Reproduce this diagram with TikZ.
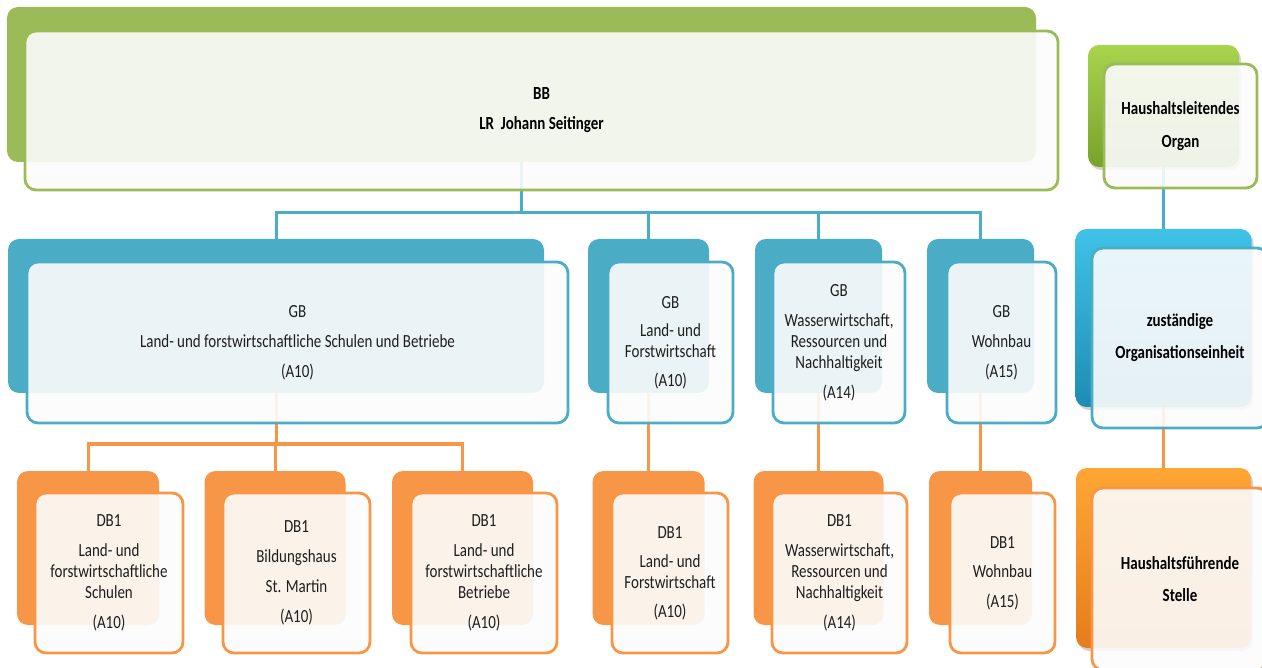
\documentclass[tikz,border=0pt]{standalone}
\usepackage{fontspec}
\setmainfont{Carlito}[FakeStretch=0.81]
\usetikzlibrary{shadows}
\pgfdeclarelayer{bg}
\pgfsetlayers{bg,main}
\definecolor{cgreen}{HTML}{9BBB59}
\definecolor{cblue}{HTML}{4BACC6}
\definecolor{corange}{HTML}{F79646}
\definecolor{lgtop}{HTML}{A8D44E}
\definecolor{lgbot}{HTML}{78A22A}
\definecolor{lbtop}{HTML}{40C2E8}
\definecolor{lbbot}{HTML}{1E8CB2}
\definecolor{lotop}{HTML}{FFA634}
\definecolor{lobot}{HTML}{E57D1A}
\definecolor{txt}{HTML}{1E1E1E}
\tikzset{
  backbox/.style={fill=#1, rounded corners=11pt, inner sep=0pt, outer sep=0pt},
  legback/.style 2 args={top color=#1, bottom color=#2, rounded corners=11pt, inner sep=0pt, outer sep=0pt,
    drop shadow={opacity=0.35, shadow xshift=2pt, shadow yshift=-3pt}},
  frontbox/.style={draw=#1, line width=2.8pt, rounded corners=11pt, fill=white!99!black, fill opacity=0.9,
    text opacity=1, inner sep=0pt, outer sep=0pt, align=center, text=txt,
    font=\fontsize{18.5}{21}\selectfont},
  legtext/.style={font=\fontsize{18.5}{21}\selectfont\bfseries, text=black},
  conn/.style={draw=#1, line width=3pt},
}
\begin{document}
\begin{tikzpicture}[x=1pt,y=-1pt]
\useasboundingbox (0,0) rectangle (1262,668);

% junction coordinates
\coordinate (bj) at (521.5,213);
\coordinate (gj) at (276,444);

% ---------- back boxes ----------
\node[backbox=cgreen, minimum width=1029pt, minimum height=155pt] (bbb) at (521.5,84.5) {};
\node[backbox=cblue, minimum width=536pt, minimum height=154pt] (gb1b) at (276,316) {};
\node[backbox=cblue, minimum width=121pt, minimum height=154pt] (gb2b) at (648.5,316) {};
\node[backbox=cblue, minimum width=127pt, minimum height=154pt] (gb3b) at (818.5,316) {};
\node[backbox=cblue, minimum width=107pt, minimum height=154pt] (gb4b) at (980.5,316) {};
\node[backbox=corange, minimum width=142pt, minimum height=154pt] (db1ab) at (88,548) {};
\node[backbox=corange, minimum width=141pt, minimum height=154pt] (db1bb) at (275,548) {};
\node[backbox=corange, minimum width=141pt, minimum height=154pt] (db1cb) at (462.5,548) {};
\node[backbox=corange, minimum width=112pt, minimum height=154pt] (db2b) at (648.5,548) {};
\node[backbox=corange, minimum width=130pt, minimum height=154pt] (db3b) at (818.5,548) {};
\node[backbox=corange, minimum width=103pt, minimum height=154pt] (db4b) at (980.5,548) {};
\node[legback={lgtop}{lgbot}, minimum width=151pt, minimum height=122pt] (hob) at (1163.5,106) {};
\node[legback={lbtop}{lbbot}, minimum width=176pt, minimum height=178pt] (zob) at (1163.5,318) {};
\node[legback={lotop}{lobot}, minimum width=175pt, minimum height=180pt] (hfb) at (1163.5,558) {};

% ---------- connectors (behind the boxes) ----------
\begin{pgfonlayer}{bg}
\draw[conn=cblue] (bbb.center) -- (bj);
\draw[conn=cblue] (gb1b.north) |- (bj) -| (gb4b.north);
\draw[conn=cblue] (gb2b.north) -- (gb2b.north |- bj);
\draw[conn=cblue] (gb3b.north) -- (gb3b.north |- bj);
\draw[conn=corange] (gb1b.center) -- (gj);
\draw[conn=corange] (db1ab.north) |- (gj) -| (db1cb.north);
\draw[conn=corange] (db1bb.north) -- (db1bb.north |- gj);
\draw[conn=corange] (gb2b.center) -- (db2b.center);
\draw[conn=corange] (gb3b.center) -- (db3b.center);
\draw[conn=corange] (gb4b.center) -- (db4b.center);
\draw[conn=cblue] (hob.center) -- (zob.center);
\draw[conn=corange] (zob.center) -- (hfb.center);
\end{pgfonlayer}

% ---------- front boxes with text ----------
\node[frontbox=cgreen, minimum width=1033pt, minimum height=159pt, font=\fontsize{18.5}{21}\selectfont\bfseries, text=black] (bb) at (541.5,110.5)
  {BB\\[9pt]LR\ \ Johann Seitinger};
\node[frontbox=cblue, minimum width=541pt, minimum height=161pt] (gb1) at (297.5,342.5)
  {GB\\[9pt]Land- und forstwirtschaftliche Schulen und Betriebe\\[9pt](A10)};
\node[frontbox=cblue, minimum width=125pt, minimum height=161pt] (gb2) at (670.5,342.5)
  {GB\\[7pt]Land- und\\Forstwirtschaft\\[8pt](A10)};
\node[frontbox=cblue, minimum width=132pt, minimum height=161pt] (gb3) at (839,342.5)
  {GB\\[9pt]Wasserwirtschaft,\\Ressourcen und\\Nachhaltigkeit\\[9pt](A14)};
\node[frontbox=cblue, minimum width=109pt, minimum height=161pt] (gb4) at (1001.5,342.5)
  {GB\\[9pt]Wohnbau\\[9pt](A15)};

\node[frontbox=corange, minimum width=148pt, minimum height=160pt] (db1a) at (109,573)
  {DB1\\[9pt]Land- und\\forstwirtschaftliche\\Schulen\\[9pt](A10)};
\node[frontbox=corange, minimum width=147pt, minimum height=160pt] (db1b) at (296.5,573)
  {DB1\\[9pt]Bildungshaus\\[9pt]St. Martin\\[9pt](A10)};
\node[frontbox=corange, minimum width=146pt, minimum height=160pt] (db1c) at (484,573)
  {DB1\\[9pt]Land- und\\forstwirtschaftliche\\Betriebe\\[9pt](A10)};
\node[frontbox=corange, minimum width=116pt, minimum height=160pt] (db2) at (670,573)
  {DB1\\[8pt]Land- und\\Forstwirtschaft\\[8pt](A10)};
\node[frontbox=corange, minimum width=135pt, minimum height=160pt] (db3) at (839.5,573)
  {DB1\\[9pt]Wasserwirtschaft,\\Ressourcen und\\Nachhaltigkeit\\[9pt](A14)};
\node[frontbox=corange, minimum width=105pt, minimum height=160pt] (db4) at (1002.5,573)
  {DB1\\[8pt]Wohnbau\\[9pt](A15)};

\node[frontbox=cgreen, minimum width=153pt, minimum height=124pt, legtext] (ho) at (1180.5,126)
  {Haushaltsleitendes\\[12pt]Organ};
\node[frontbox=cblue, minimum width=176pt, minimum height=180pt, legtext] (zo) at (1180,338)
  {zuständige\\[11pt]Organisationseinheit};
\node[frontbox=corange, minimum width=176pt, minimum height=182pt, legtext] (hf) at (1180,579)
  {Haushaltsführende\\[11pt]Stelle};
\end{tikzpicture}
\end{document}
